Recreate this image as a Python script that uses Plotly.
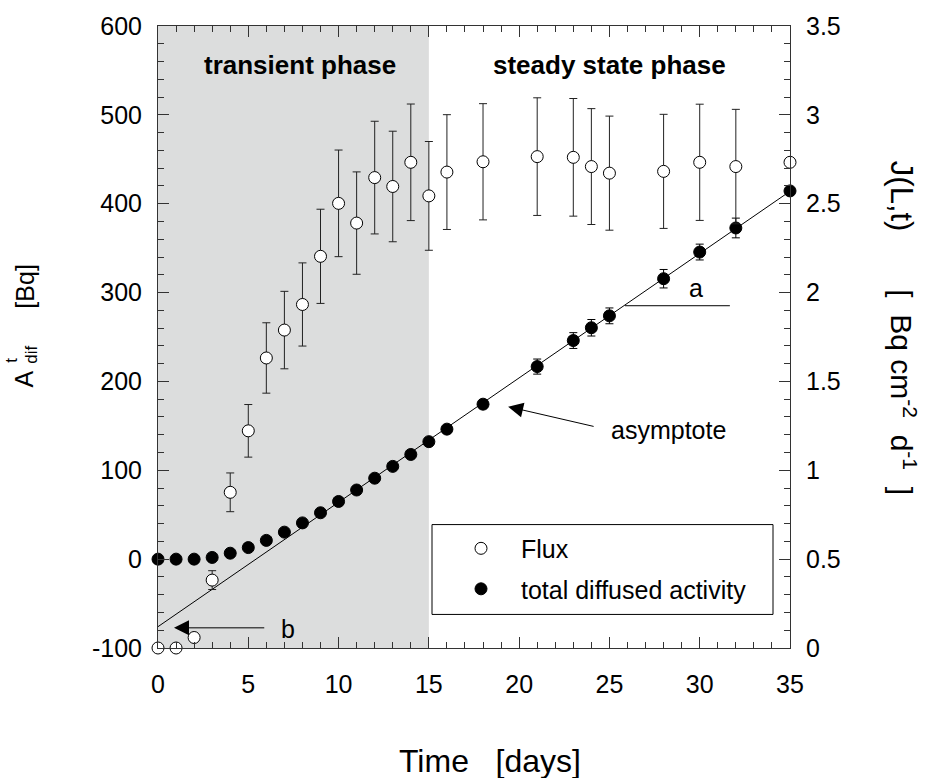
import plotly.graph_objects as go

# ---- data ---------------------------------------------------------------
# Flux J(L,t) [Bq cm^-2 d^-1] (right axis) with its uncertainty
flux_days = [0, 1, 2, 3, 4, 5, 6, 7, 8, 9, 10, 11, 12, 13, 14, 15, 16, 18, 21, 23, 24, 25, 28, 30, 32, 35]
flux_vals = [0.0, 0.0, 0.059, 0.382, 0.876, 1.222, 1.632, 1.789, 1.933, 2.204, 2.502, 2.391, 2.647,
             2.597, 2.733, 2.544, 2.678, 2.736, 2.765, 2.761, 2.709, 2.672, 2.682, 2.733, 2.709, 2.733]
flux_err = [None, None, None, 0.053, 0.109, 0.148, 0.198, 0.218, 0.234, 0.265, 0.300, 0.288, 0.317,
            0.311, 0.328, 0.306, 0.323, 0.327, 0.331, 0.331, 0.326, 0.321, 0.321, 0.327, 0.322, None]

# Total diffused activity A_dif [Bq] (left axis) with its uncertainty
act_days = [0, 1, 2, 3, 4, 5, 6, 7, 8, 9, 10, 11, 12, 13, 14, 15, 16, 18, 21, 23, 24, 25, 28, 30, 32, 35]
act_vals = [0.0, 0.0, 0.0, 1.9, 6.7, 13.0, 21.1, 30.4, 40.8, 52.2, 64.9, 77.8, 91.1, 104.4, 117.8,
            132.2, 146.3, 174.4, 216.7, 246.0, 260.4, 273.8, 315.6, 345.6, 372.7, 414.4]
act_err = [None] * 17 + [5.0, 8.5, 8.9, 9.3, 8.9, 10.4, 8.9, 11.1, None]

# Steady-state asymptote A = a*t + b
slope_a = 14.0
intercept_b = -76.0
asym_days = [0, 35]

# Phase boundary (days)
transient_end = 15

# Tick labels
x_ticks = [0, 5, 10, 15, 20, 25, 30, 35]
y1_ticks = [-100, 0, 100, 200, 300, 400, 500, 600]
y1_labels = ["-100", "0", "100", "200", "300", "400", "500", "600"]
y2_ticks = [0, 0.5, 1, 1.5, 2, 2.5, 3, 3.5]
y2_labels = ["0", "0.5", "1", "1.5", "2", "2.5", "3", "3.5"]

# ---- layout geometry (pixels) ------------------------------------------
W, H = 933, 778
L, R, T, B = 158, 143, 18, 130
PW, PH = W - L - R, H - T - B
FONT = "Arial, Liberation Sans, Helvetica, sans-serif"
INK = "#000000"
NB = "\u00a0"


def px(xpix):
    return (xpix - L) / PW


def py(ypix):
    return (H - B - ypix) / PH


fig = go.Figure()

# asymptote
fig.add_trace(go.Scatter(
    x=asym_days, y=[slope_a * d + intercept_b for d in asym_days],
    mode="lines", line=dict(color=INK, width=1), showlegend=False,
    hoverinfo="skip", cliponaxis=False,
))

# flux (right axis)
fig.add_trace(go.Scatter(
    x=flux_days, y=flux_vals, yaxis="y2", mode="markers", name="Flux", legendgroup="flux",
    marker=dict(symbol="circle", size=12, color="white", line=dict(color=INK, width=1)),
    error_y=dict(type="data", array=flux_err, visible=True, color="#222222", thickness=1, width=4),
    cliponaxis=False,
))

# total diffused activity (left axis)
fig.add_trace(go.Scatter(
    x=act_days, y=act_vals, mode="markers", name="total diffused activity", legendgroup="act",
    marker=dict(symbol="circle", size=12, color=INK, line=dict(color=INK, width=1)),
    error_y=dict(type="data", array=act_err, visible=True, color=INK, thickness=1, width=4),
    cliponaxis=False,
))

# shaded transient phase
fig.add_shape(type="rect", xref="x", yref="paper", x0=0, x1=transient_end, y0=0, y1=1,
              fillcolor="#dcdddd", line=dict(width=0), layer="below")

# legend frame
fig.add_shape(type="rect", xref="paper", yref="paper",
              x0=px(432), x1=px(773), y0=py(614), y1=py(523),
              fillcolor="white", line=dict(color=INK, width=1), layer="above")

# slope marker "a"
fig.add_shape(type="line", xref="x", yref="y", x0=25.86, x1=31.67, y0=285.2, y1=285.2,
              line=dict(color=INK, width=1))

ann = []
ann.append(dict(x=7.86, y=555.6, xref="x", yref="y", text="<b>transient phase</b>", showarrow=False,
                font=dict(size=26, color=INK, family=FONT), xanchor="center", yanchor="middle"))
ann.append(dict(x=25.03, y=555.6, xref="x", yref="y", text="<b>steady state phase</b>", showarrow=False,
                font=dict(size=26, color=INK, family=FONT), xanchor="center", yanchor="middle"))
ann.append(dict(x=29.82, y=304.9, xref="x", yref="y", text="a", showarrow=False,
                font=dict(size=25, color=INK, family=FONT), xanchor="center", yanchor="middle"))
ann.append(dict(x=28.26, y=145.6, xref="x", yref="y", text="asymptote", showarrow=False,
                font=dict(size=25, color=INK, family=FONT), xanchor="center", yanchor="middle"))
ann.append(dict(x=7.22, y=-78.4, xref="x", yref="y", text="b", showarrow=False,
                font=dict(size=25, color=INK, family=FONT), xanchor="center", yanchor="middle"))
# arrows
ann.append(dict(x=19.39, y=171.6, ax=24.29, ay=148.6, xref="x", yref="y", axref="x", ayref="y",
                text=" ", showarrow=True, arrowhead=2, arrowsize=3.0, arrowwidth=1, arrowcolor=INK,
                standoff=0, startstandoff=0))
ann.append(dict(x=0.886, y=-77.3, ax=6.05, ay=-77.3, xref="x", yref="y", axref="x", ayref="y",
                text=" ", showarrow=True, arrowhead=2, arrowsize=3.0, arrowwidth=1, arrowcolor=INK,
                standoff=0, startstandoff=0))

# axis titles
ann.append(dict(x=px(490), y=py(762), xref="paper", yref="paper",
                text="Time" + NB * 3 + "[days]", showarrow=False,
                font=dict(size=32, color=INK, family=FONT), xanchor="center", yanchor="middle"))
ann.append(dict(x=px(24), y=py(376), xref="paper", yref="paper", text="A", textangle=-90,
                showarrow=False, font=dict(size=25, color=INK, family=FONT),
                xanchor="center", yanchor="middle"))
ann.append(dict(x=px(12), y=py(357), xref="paper", yref="paper", text="t", textangle=-90,
                showarrow=False, font=dict(size=17, color=INK, family=FONT),
                xanchor="center", yanchor="middle"))
ann.append(dict(x=px(32), y=py(351), xref="paper", yref="paper", text="dif", textangle=-90,
                showarrow=False, font=dict(size=17, color=INK, family=FONT),
                xanchor="center", yanchor="middle"))
ann.append(dict(x=px(25), y=py(282), xref="paper", yref="paper", text="[Bq]", textangle=-90,
                showarrow=False, font=dict(size=25, color=INK, family=FONT),
                xanchor="center", yanchor="middle"))
ann.append(dict(x=px(901), y=py(190), xref="paper", yref="paper", text="J(L,t)", textangle=90,
                showarrow=False, font=dict(size=31, color=INK, family=FONT),
                xanchor="center", yanchor="middle"))
ann.append(dict(x=px(903), y=py(389), xref="paper", yref="paper",
                text="[" + NB * 2 + "Bq" + NB + "cm<sup>-2</sup>" + NB * 2 + "d<sup>-1</sup>" + NB * 2 + "]",
                textangle=90, showarrow=False, font=dict(size=30, color=INK, family=FONT),
                xanchor="center", yanchor="middle"))

tickfont = dict(size=25, color=INK, family=FONT)

fig.update_layout(
    width=W, height=H,
    margin=dict(l=L, r=R, t=T, b=B, pad=0),
    paper_bgcolor="white", plot_bgcolor="white",
    font=dict(family=FONT, color=INK),
    annotations=ann,
    showlegend=True,
    legend=dict(
        x=px(441), y=py(524), xanchor="left", yanchor="top",
        bgcolor="rgba(0,0,0,0)", borderwidth=0,
        font=dict(size=25, color=INK, family=FONT),
        itemwidth=70, tracegroupgap=5,
    ),
    xaxis=dict(
        range=[0, 35], tickvals=x_ticks, ticktext=[str(v) for v in x_ticks],
        ticks="inside", ticklen=11, tickwidth=1, tickcolor="#333",
        minor=dict(dtick=1, ticks="inside", ticklen=6, tickwidth=1, tickcolor="#333", showgrid=False),
        showline=True, linecolor="#333", linewidth=1, mirror="ticks",
        showgrid=False, zeroline=False, tickfont=tickfont, ticklabelstandoff=14,
    ),
    yaxis=dict(
        range=[-100, 600], tickvals=y1_ticks, ticktext=y1_labels,
        ticks="inside", ticklen=11, tickwidth=1, tickcolor="#333",
        minor=dict(dtick=20, ticks="inside", ticklen=6, tickwidth=1, tickcolor="#333", showgrid=False),
        showline=True, linecolor="#333", linewidth=1,
        showgrid=False, zeroline=False, tickfont=tickfont, ticklabelstandoff=10,
    ),
    yaxis2=dict(
        range=[0, 3.5], tickvals=y2_ticks, ticktext=y2_labels, overlaying="y", side="right",
        ticks="inside", ticklen=11, tickwidth=1, tickcolor="#333",
        minor=dict(dtick=0.1, ticks="inside", ticklen=6, tickwidth=1, tickcolor="#333", showgrid=False),
        showline=True, linecolor="#333", linewidth=1,
        showgrid=False, zeroline=False, tickfont=tickfont, ticklabelstandoff=10,
    ),
)

fig.write_html("out.html")
